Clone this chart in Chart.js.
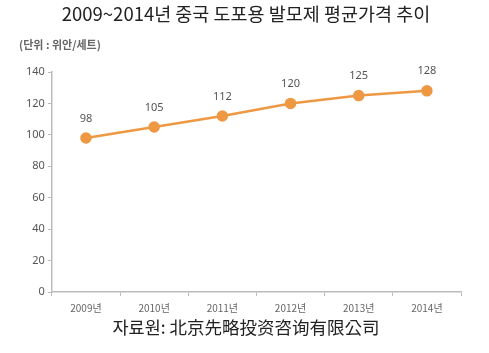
<!DOCTYPE html>
<html>
<head>
<meta charset="utf-8">
<script src="https://cdn.jsdelivr.net/npm/chart.js@4"></script>
<style>
  body { margin: 0; background: #fff; }
  #wrap { position: relative; width: 489px; height: 353px; font-family: "Noto Sans CJK KR", "Noto Sans", sans-serif; }
  #title { position: absolute; top: 0px; left: 0; width: 492px; text-align: center; font-size: 18.5px; color: #222; }
  #unit { position: absolute; top: 36px; left: 19px; font-size: 11px; font-weight: bold; color: #666; }
  #source { position: absolute; top: 314px; left: 0; width: 492px; text-align: center; font-size: 17.5px; color: #222; }
  canvas { position: absolute; top: 0; left: 0; }
</style>
</head>
<body>
<div id="wrap">
  <canvas id="chart" width="489" height="353"></canvas>
  <div id="title">2009~2014년 중국 도포용 발모제 평균가격 추이</div>
  <div id="unit">(단위 : 위안/세트)</div>
  <div id="source">자료원: 北京先略投资咨询有限公司</div>
</div>
<script>
const years = ['2009년', '2010년', '2011년', '2012년', '2013년', '2014년'];
const prices = [98, 105, 112, 120, 125, 128];
const yTicks = [0, 20, 40, 60, 80, 100, 120, 140];

const orange = '#EE9843';

// value labels above each point
const valueLabels = {
    id: 'valueLabels',
    afterDatasetsDraw(chart) {
        const ctx = chart.ctx;
        const meta = chart.getDatasetMeta(0);
        ctx.save();
        ctx.font = '11px "Noto Sans", sans-serif';
        ctx.fillStyle = '#555';
        ctx.textAlign = 'center';
        ctx.textBaseline = 'bottom';
        meta.data.forEach((pt, i) => {
            ctx.fillText(prices[i], pt.x, pt.y - 14);
        });
        ctx.restore();
    }
};

new Chart(document.getElementById('chart'), {
    type: 'line',
    data: {
        labels: years,
        datasets: [{
            data: prices,
            borderColor: orange,
            backgroundColor: orange,
            borderWidth: 2.5,
            pointRadius: 4.5,
            pointHoverRadius: 4.5,
            tension: 0
        }]
    },
    options: {
        responsive: false,
        animation: false,
        layout: { padding: { left: 23, right: 28, top: 72, bottom: 33 } },
        plugins: {
            legend: { display: false },
            tooltip: { enabled: false }
        },
        scales: {
            x: {
                offset: true,
                grid: { display: true, drawOnChartArea: false, offset: true, color: '#bbb', tickLength: 4 },
                border: { color: '#bbb', width: 1.5 },
                ticks: { color: '#666', font: { size: 10, family: '"Noto Sans CJK KR", sans-serif' }, padding: 6 }
            },
            y: {
                min: 0,
                max: 140,
                afterBuildTicks(axis) { axis.ticks = yTicks.map(v => ({ value: v })); },
                grid: { display: true, drawOnChartArea: false, color: '#bbb', tickLength: 4 },
                border: { color: '#bbb', width: 1.5 },
                ticks: { color: '#555', font: { size: 11, family: '"Noto Sans", sans-serif' }, padding: 3 }
            }
        }
    },
    plugins: [valueLabels]
});
</script>
</body>
</html>
